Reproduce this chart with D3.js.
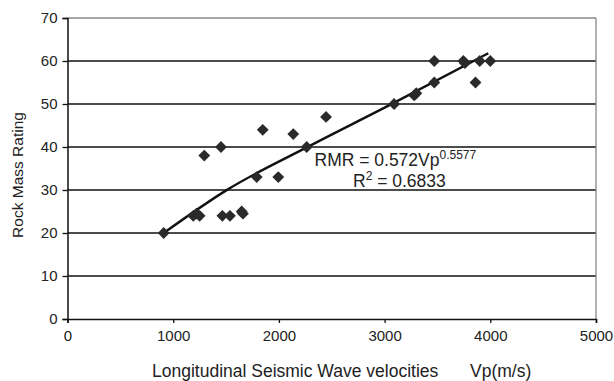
<!DOCTYPE html>
<html>
<head>
<meta charset="utf-8">
<script src="https://cdn.jsdelivr.net/npm/d3@7"></script>
<style>
  body { margin: 0; background: #fff; }
  svg { font-family: "Liberation Sans", Arial, sans-serif; }
</style>
</head>
<body>
<div id="chart"></div>
<script>
// measured points (Vp m/s, RMR)
var vp  = [910, 1190, 1220, 1250, 1294, 1452, 1465, 1537, 1648, 1660, 1790, 1847, 1994, 2136, 2263, 2446, 3090, 3280, 3300, 3470, 3470, 3745, 3760, 3860, 3900, 4000];
var rmr = [20, 24, 24.5, 24, 38, 40, 24, 24, 25, 24.5, 33, 44, 33, 43, 40, 47, 50, 52, 52.5, 55, 60, 60, 59.5, 55, 60, 60];

// trendline
var trendX = [910, 1521, 2263, 3083, 3981];
var trendY = [20, 30.2, 39.9, 50.2, 61.8];

var xTicks = [0, 1000, 2000, 3000, 4000, 5000];
var yTicks = [0, 10, 20, 30, 40, 50, 60, 70];

var width = 614, height = 381;
var margin = {left: 67.5, right: 18, top: 18, bottom: 62};
var plotW = width - margin.left - margin.right;
var plotH = height - margin.top - margin.bottom;

var svg = d3.select('#chart').append('svg')
  .attr('width', width)
  .attr('height', height);

var plot = svg.append('g')
  .attr('transform', `translate(${margin.left}, ${margin.top})`);

var xScale = d3.scaleLinear().domain([0, 5000]).range([0, plotW]);
var yScale = d3.scaleLinear().domain([0, 70]).range([plotH, 0]);

// gridlines
plot.append('g').selectAll('line')
  .data(yTicks.filter(function(d){ return d > 0; }))
  .enter().append('line')
  .attr('x1', 0).attr('x2', plotW)
  .attr('y1', function(d){ return yScale(d); })
  .attr('y2', function(d){ return yScale(d); })
  .attr('stroke', function(d){ return d === 70 ? '#888' : '#111'; })
  .attr('stroke-width', 1.3);

// right border
plot.append('line')
  .attr('x1', plotW).attr('x2', plotW)
  .attr('y1', 0).attr('y2', plotH)
  .attr('stroke', '#888').attr('stroke-width', 1.3);

var xAxis = plot.append('g')
  .attr('transform', `translate(0, ${plotH})`)
  .call(d3.axisBottom(xScale).tickValues(xTicks).tickSize(4).tickPadding(7).tickFormat(d3.format('d')));
var yAxis = plot.append('g')
  .call(d3.axisLeft(yScale).tickValues(yTicks).tickSize(5).tickPadding(5));

[xAxis, yAxis].forEach(function(ax){
  ax.attr('font-family', '"Liberation Sans", Arial, sans-serif').attr('font-size', 15);
  ax.select('.domain').attr('stroke', '#111').attr('stroke-width', 1.5);
  ax.selectAll('.tick line').attr('stroke', '#111').attr('stroke-width', 1.3);
  ax.selectAll('.tick text').attr('fill', '#222').attr('font-size', 15);
});

// trendline
var trend = trendX.map(function(x, i){ return [x, trendY[i]]; });
plot.append('path')
  .datum(trend)
  .attr('fill', 'none')
  .attr('stroke', '#111')
  .attr('stroke-width', 2.4)
  .attr('d', d3.line()
    .x(function(d){ return xScale(d[0]); })
    .y(function(d){ return yScale(d[1]); })
    .curve(d3.curveMonotoneX));

// diamonds
var diamond = d3.symbol().type(d3.symbolSquare).size(70);
plot.append('g').selectAll('path')
  .data(vp.map(function(x, i){ return [x, rmr[i]]; }))
  .enter().append('path')
  .attr('d', diamond)
  .attr('fill', '#2a2a2a')
  .attr('transform', function(d){
    return `translate(${xScale(d[0])}, ${yScale(d[1])}) rotate(45)`;
  });

// equation
var eq = plot.append('text')
  .attr('font-size', 17.5)
  .attr('fill', '#222')
  .attr('x', 247)
  .attr('y', 148);
eq.append('tspan').text('RMR = 0.572Vp');
eq.append('tspan').attr('dy', -7).attr('font-size', 12).text('0.5577');

var r2 = plot.append('text')
  .attr('font-size', 17.5)
  .attr('fill', '#222')
  .attr('x', 285.5)
  .attr('y', 169);
r2.append('tspan').text('R');
r2.append('tspan').attr('dy', -7).attr('font-size', 12).text('2');
r2.append('tspan').attr('dy', 7).text(' = 0.6833');

// axis titles
svg.append('text')
  .attr('font-size', 17.5)
  .attr('fill', '#222')
  .attr('x', 152)
  .attr('y', 377)
  .text('Longitudinal Seismic Wave velocities');
svg.append('text')
  .attr('font-size', 17.5)
  .attr('fill', '#222')
  .attr('x', 470)
  .attr('y', 377)
  .text('Vp(m/s)');

svg.append('text')
  .attr('font-size', 15.5)
  .attr('fill', '#222')
  .attr('text-anchor', 'middle')
  .attr('transform', 'rotate(-90)')
  .attr('x', -175)
  .attr('y', 23)
  .text('Rock Mass Rating');
</script>
</body>
</html>
